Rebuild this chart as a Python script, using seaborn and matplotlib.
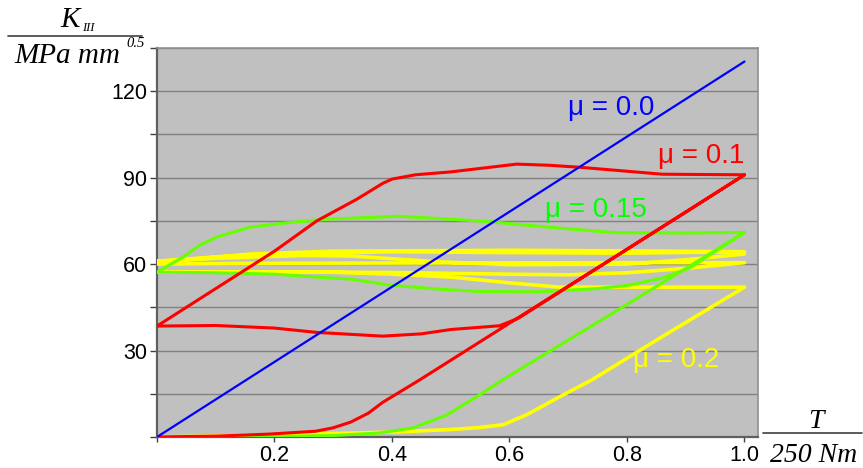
import numpy as np
import pandas as pd
import matplotlib.pyplot as plt
from matplotlib.lines import Line2D
import seaborn as sns

# mu = 0.0
blue_x = [0.0, 1.0]
blue_y = [0.0, 130.3]

# mu = 0.1  (first loading, return along the plateau, second loading)
red_x = [0.0, 0.1, 0.19, 0.27, 0.3, 0.33, 0.36, 0.384, 0.447, 0.6, 0.8, 1.0,
         0.86, 0.72, 0.668, 0.612, 0.5, 0.44, 0.40, 0.384, 0.36, 0.34, 0.272, 0.2, 0.1, 0.0,
         0.1, 0.2, 0.272, 0.384, 0.45, 0.5, 0.583, 0.615, 0.7, 0.8, 0.9, 1.0]
red_y = [0.0, 0.3, 1.0, 2.0, 3.2, 5.2, 8.3, 12.0, 19.8, 39.5, 65.2, 91.0,
         91.2, 93.6, 94.3, 94.7, 92.0, 91.0, 89.5, 88.0, 85.0, 82.5, 75.0, 64.5, 51.5, 38.5,
         38.7, 37.8, 36.3, 35.0, 35.8, 37.3, 38.6, 41.2, 52.2, 65.1, 78.0, 91.0]

# mu = 0.15
green_x = [0.0, 0.2, 0.3, 0.379, 0.435, 0.493, 0.549, 0.588, 0.8, 1.0,
           0.9, 0.78, 0.668, 0.555, 0.413, 0.289, 0.214, 0.158, 0.102, 0.073, 0.044, 0.0,
           0.1, 0.2, 0.272, 0.33, 0.396, 0.481, 0.55, 0.65, 0.75, 0.804, 0.861, 0.906, 1.0]
green_y = [0.0, 0.2, 0.5, 1.4, 3.1, 7.6, 14.6, 19.8, 46.0, 71.0,
           70.8, 70.9, 72.8, 74.9, 76.6, 75.6, 74.2, 72.8, 69.4, 66.6, 62.4, 57.2,
           57.0, 56.5, 55.5, 54.8, 52.7, 51.3, 50.5, 50.4, 51.5, 52.7, 55.2, 58.6, 71.0]

# mu = 0.2
yellow_x = [0.0, 0.2, 0.4, 0.5, 0.55, 0.59, 0.63, 0.685, 0.74, 0.85, 1.0,
            0.85, 0.685, 0.6, 0.5, 0.4, 0.3, 0.15, 0.0,
            0.2, 0.4, 0.6, 0.7, 0.8, 0.9, 1.0,
            0.8, 0.5, 0.2, 0.0,
            0.05, 0.16, 0.3, 0.6, 0.8, 1.0,
            0.8, 0.6, 0.4, 0.2, 0.1, 0.0,
            0.1, 0.25, 0.33, 0.48, 0.6, 0.8, 0.9, 1.0]
yellow_y = [0.0, 0.7, 1.7, 2.6, 3.3, 4.3, 7.8, 13.9, 19.8, 33.6, 52.0,
            52.0, 52.0, 53.5, 55.5, 56.5, 57.2, 57.3, 57.3,
            57.3, 57.1, 56.5, 56.3, 57.0, 58.5, 60.5,
            60.5, 60.4, 60.3, 60.0,
            61.5, 63.5, 64.5, 64.8, 64.6, 64.3,
            63.8, 64.0, 64.3, 63.5, 62.5, 61.0,
            62.0, 63.0, 62.8, 60.8, 59.8, 60.0, 61.5, 63.5]

x_ticks = [0.0, 0.2, 0.4, 0.6, 0.8, 1.0]
x_labels = ['', '0.2', '0.4', '0.6', '0.8', '1.0']
y_ticks = list(range(0, 136, 15))
y_labels = [str(v) if v % 30 == 0 and v > 0 else '' for v in y_ticks]

sns.set_theme(style="ticks")
plt.rcParams['font.family'] = ['Liberation Sans', 'DejaVu Sans']

W, H = 863, 468
fig = plt.figure(figsize=(W / 100, H / 100), dpi=100)
ax = fig.add_axes([157 / W, 31 / H, 601 / W, 389 / H])
ax.set_facecolor('#C0C0C0')

curves = [
    (yellow_x, yellow_y, '#FFFF00', 2.6),
    (green_x, green_y, '#66FF00', 2.2),
    (red_x, red_y, '#FF0000', 2.2),
    (blue_x, blue_y, '#0000FF', 1.6),
]
for xs, ys, c, lw in curves:
    d = pd.DataFrame({'T': xs, 'K': ys})
    sns.lineplot(data=d, x='T', y='K', sort=False, estimator=None,
                 color=c, lw=lw, ax=ax, zorder=3)

ax.set_xlim(0, 1.023)
ax.set_ylim(0, 135)
ax.set_xticks(x_ticks)
ax.set_xticklabels(x_labels)
ax.set_yticks(y_ticks)
ax.set_yticklabels(y_labels)
ax.set_xlabel('')
ax.set_ylabel('')
ax.grid(axis='y', color='#808080', lw=1.0)
ax.set_axisbelow(True)
ax.tick_params(axis='both', labelsize=15.5, colors='#000000', pad=2)
ax.tick_params(axis='x', length=3.5, width=1, color='#404040')
ax.tick_params(axis='y', length=5, width=1, color='#404040')
for s in ['left', 'bottom']:
    ax.spines[s].set_color('#606060')
    ax.spines[s].set_linewidth(1.6)
for s in ['top', 'right']:
    ax.spines[s].set_visible(True)
    ax.spines[s].set_color('#909090')
    ax.spines[s].set_linewidth(1.2)

# curve labels
ax.text(0.699, 111.7, 'μ = 0.0', color='#0000FF', fontsize=20, va='baseline')
ax.text(0.852, 95.0, 'μ = 0.1', color='#FF0000', fontsize=20, va='baseline')
ax.text(0.66, 76.3, 'μ = 0.15', color='#00FF00', fontsize=20, va='baseline')
ax.text(0.81, 24.3, 'μ = 0.2', color='#FFFF00', fontsize=20, va='baseline')

# axis labels as fractions
serif = dict(family=['Liberation Serif', 'DejaVu Serif'], style='italic', color='black')
fig.text(60 / W, 1 - 27 / H, 'K', fontsize=21, va='baseline', **serif)
fig.text(82 / W, 1 - 31 / H, 'III', fontsize=9, va='baseline', **serif)
fig.add_artist(Line2D([8 / W, 142 / W], [1 - 36 / H] * 2, color='#404040', lw=1.2))
fig.text(14 / W, 1 - 63 / H, 'MPa mm', fontsize=21, va='baseline', **serif)
fig.text(126 / W, 1 - 47 / H, '0.5', fontsize=10.5, va='baseline', **serif)

fig.text(816 / W, 1 - 428 / H, 'T', fontsize=20, va='baseline', ha='center', **serif)
fig.add_artist(Line2D([763 / W, 862 / W], [1 - 433 / H] * 2, color='#404040', lw=1.2))
fig.text(770 / W, 1 - 462 / H, '250 Nm', fontsize=20, va='baseline', **serif)

fig.savefig('out.png', dpi=100)
